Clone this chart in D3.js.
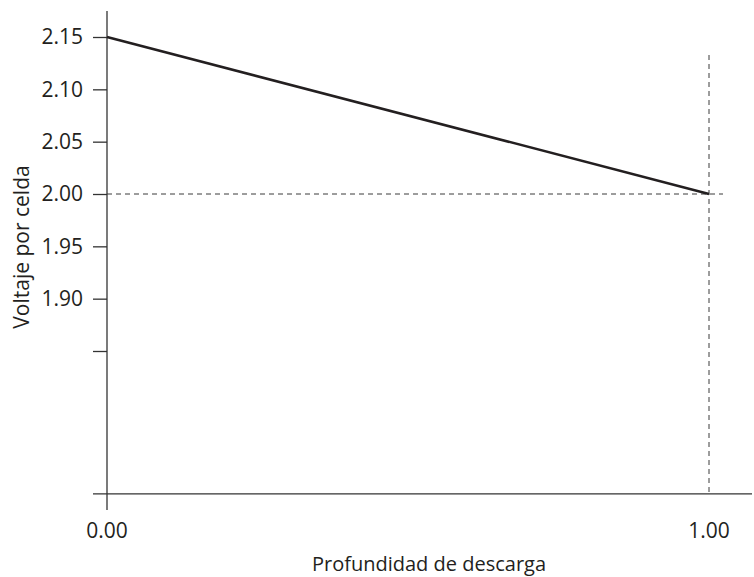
<!DOCTYPE html>
<html>
<head>
<meta charset="utf-8">
<script src="https://cdn.jsdelivr.net/npm/d3@7"></script>
<style>
  body { margin: 0; background: #fff; }
  text { font-family: "Open Sans", "Noto Sans", sans-serif; fill: #231f20; }
</style>
</head>
<body>
<div id="root"></div>
<script>
'use strict';

var width = 754;
var height = 577;

// data
var depth = [0, 1];
var voltage = [2.15, 2.00];
var yTicks = [2.15, 2.10, 2.05, 2.00, 1.95, 1.90, 1.85];
var yTickLabels = ['2.15', '2.10', '2.05', '2.00', '1.95', '1.90', ''];
var xTicks = [0, 1];
var xTickLabels = ['0.00', '1.00'];
var yBase = 1.7135;   // where the depth axis crosses
var refVoltage = 2.00;
var refDepth = 1.00;

var axisColor = '#333';

var svg = d3.select('#root')
  .append('svg')
  .attr('width', width)
  .attr('height', height);

var xScale = d3.scaleLinear()
  .domain([0, 1])
  .range([107, 709]);

var yScale = d3.scaleLinear()
  .domain([1.85, 2.15])
  .range([351, 37]);

var x0 = xScale(0);
var yB = yScale(yBase);

// y axis ticks
var yAxis = d3.axisLeft(yScale)
  .tickValues(yTicks)
  .tickSize(14)
  .tickPadding(10)
  .tickFormat((d, i) => yTickLabels[i]);

var gy = svg.append('g')
  .attr('transform', `translate(${x0},0)`)
  .call(yAxis);
gy.select('.domain').remove();
gy.selectAll('line').attr('stroke', axisColor).attr('stroke-width', 1.3);
gy.selectAll('text')
  .attr('font-size', 21)
  .attr('font-family', '"Open Sans", "Noto Sans", sans-serif')
  .attr('fill', '#231f20');

// y axis line (runs past the x axis as the 0.00 tick)
svg.append('line')
  .attr('x1', x0).attr('x2', x0)
  .attr('y1', 11).attr('y2', 510)
  .attr('stroke', axisColor)
  .attr('stroke-width', 1.3);

// x axis line
svg.append('line')
  .attr('x1', 93).attr('x2', 752)
  .attr('y1', yB).attr('y2', yB)
  .attr('stroke', axisColor)
  .attr('stroke-width', 1.3);

// x tick labels
svg.selectAll('.xlabel')
  .data(xTicks)
  .enter()
  .append('text')
  .attr('class', 'xlabel')
  .attr('x', d => xScale(d))
  .attr('y', 538)
  .attr('text-anchor', 'middle')
  .attr('font-size', 21)
  .text((d, i) => xTickLabels[i]);

// reference dashed lines
svg.append('line')
  .attr('x1', x0).attr('x2', 723)
  .attr('y1', yScale(refVoltage)).attr('y2', yScale(refVoltage))
  .attr('stroke', '#3a3a3a')
  .attr('stroke-width', 1)
  .attr('stroke-dasharray', '5,4');

svg.append('line')
  .attr('x1', xScale(refDepth)).attr('x2', xScale(refDepth))
  .attr('y1', 55).attr('y2', yB)
  .attr('stroke', '#3a3a3a')
  .attr('stroke-width', 1)
  .attr('stroke-dasharray', '5,4');

// data line
var line = d3.line()
  .x((d, i) => xScale(depth[i]))
  .y(d => yScale(d));

svg.append('path')
  .datum(voltage)
  .attr('d', line)
  .attr('fill', 'none')
  .attr('stroke', '#231f20')
  .attr('stroke-width', 2.5);

// axis titles
svg.append('text')
  .attr('x', 429)
  .attr('y', 571)
  .attr('text-anchor', 'middle')
  .attr('font-size', 20)
  .text('Profundidad de descarga');

svg.append('text')
  .attr('transform', 'translate(29,247) rotate(-90)')
  .attr('text-anchor', 'middle')
  .attr('font-size', 21)
  .text('Voltaje por celda');
</script>
</body>
</html>
